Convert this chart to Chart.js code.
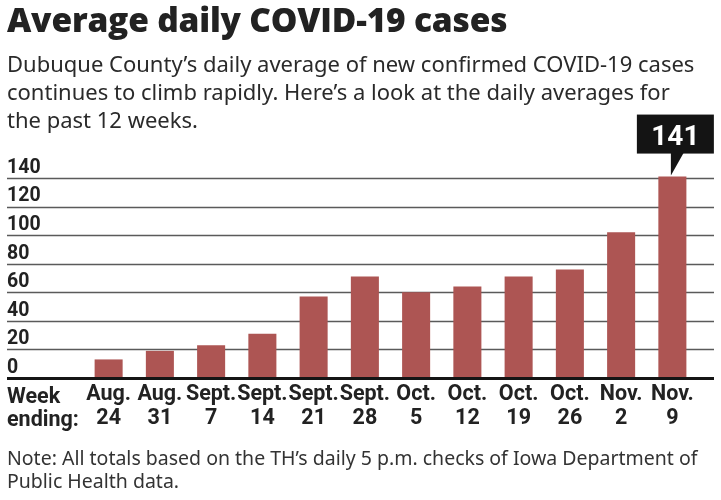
<!DOCTYPE html>
<html>
<head>
<meta charset="utf-8">
<script src="https://cdn.jsdelivr.net/npm/chart.js@4"></script>
<style>
  html, body { margin: 0; padding: 0; background: #fff; }
  #wrap { position: relative; width: 721px; height: 500px; overflow: hidden; }
  #c { position: absolute; left: 0; top: 0; }
  .t { position: absolute; left: 7px; white-space: nowrap; color: #222; }
  #title { top: -1px; font: 800 33.5px/40px "Open Sans", sans-serif; letter-spacing: -0.2px; }
  #sub { top: 49px; font: 400 22px/28px "Noto Sans", sans-serif; color: #2a2a2a; }
  #week { top: 384px; font: 700 21.5px/23px Roboto, sans-serif; }
  #note { top: 446px; font: 400 19.5px/23px "Noto Sans", sans-serif; color: #333; }
</style>
</head>
<body>
<div id="wrap">
  <canvas id="c" width="721" height="500"></canvas>
  <div class="t" id="title">Average daily COVID-19 cases</div>
  <div class="t" id="sub">Dubuque County’s daily average of new confirmed COVID-19 cases<br>continues to climb rapidly. Here’s a look at the daily averages for<br>the past 12 weeks.</div>
  <div class="t" id="week">Week<br>ending:</div>
  <div class="t" id="note">Note: All totals based on the TH’s daily 5 p.m. checks of Iowa Department of<br>Public Health data.</div>
</div>
<script>
const categories = [
  ['Aug.', '24'], ['Aug.', '31'], ['Sept.', '7'], ['Sept.', '14'],
  ['Sept.', '21'], ['Sept.', '28'], ['Oct.', '5'], ['Oct.', '12'],
  ['Oct.', '19'], ['Oct.', '26'], ['Nov.', '2'], ['Nov.', '9']
];
const values = [13, 19, 23, 31, 57, 71, 60, 64, 71, 76, 102, 141];
const yMin = 0;
const yMax = 140;
const yStep = 20;
const calloutIndex = 11;

const barColor = '#ad5553';

const gridPlugin = {
  id: 'fullGrid',
  beforeDatasetsDraw(chart) {
    const { ctx, scales: { y } } = chart;
    ctx.save();
    y.ticks.forEach(t => {
      if (t.value === 0) return;
      const py = Math.round(y.getPixelForValue(t.value)) + 0.5;
      ctx.beginPath();
      ctx.lineWidth = 1.6;
      ctx.strokeStyle = '#5a5a5a';
      ctx.moveTo(7, py);
      ctx.lineTo(714, py);
      ctx.stroke();
    });
    ctx.restore();
  },
  afterDatasetsDraw(chart) {
    const { ctx, scales: { y } } = chart;
    ctx.save();
    const py0 = y.getPixelForValue(0);
    ctx.beginPath();
    ctx.lineWidth = 3;
    ctx.strokeStyle = '#151515';
    ctx.moveTo(7, py0 + 0.5);
    ctx.lineTo(714, py0 + 0.5);
    ctx.stroke();

    // callout for the last bar
    const bar = chart.getDatasetMeta(0).data[calloutIndex];
    const tipX = bar.x - 1.5;
    const tipY = bar.y - 1;
    const boxL = tipX - 34, boxR = tipX + 43;
    const boxB = tipY - 22, boxT = tipY - 61;
    ctx.fillStyle = '#141414';
    ctx.fillRect(boxL, boxT, boxR - boxL, boxB - boxT);
    ctx.beginPath();
    ctx.moveTo(tipX, boxB - 1);
    ctx.lineTo(tipX + 13, boxB - 1);
    ctx.lineTo(tipX, tipY);
    ctx.closePath();
    ctx.fill();
    ctx.fillStyle = '#ffffff';
    ctx.font = '700 28px Roboto, sans-serif';
    ctx.textAlign = 'center';
    ctx.textBaseline = 'alphabetic';
    ctx.fillText(String(values[calloutIndex]), (boxL + boxR) / 2, boxB - 9);
    ctx.restore();
  }
};

new Chart(document.getElementById('c'), {
  type: 'bar',
  data: {
    labels: categories,
    datasets: [{
      data: values,
      backgroundColor: barColor,
      borderWidth: 0,
      barPercentage: 0.547,
      categoryPercentage: 1.0,
      clip: false
    }]
  },
  options: {
    responsive: false,
    animation: false,
    events: [],
    layout: { padding: { top: 178, left: 7, right: 23, bottom: 0 } },
    plugins: {
      legend: { display: false },
      tooltip: { enabled: false },
      title: { display: false }
    },
    scales: {
      x: {
        grid: { display: false, drawTicks: false },
        border: { display: false },
        ticks: {
          color: '#222',
          font: { family: 'Roboto', weight: '700', size: 21.5, lineHeight: 1.12 },
          padding: 5,
          maxRotation: 0,
          autoSkip: false
        },
        afterFit(scale) { scale.height = 122; }
      },
      y: {
        min: yMin,
        max: yMax,
        grid: { display: false, drawTicks: false },
        border: { display: false },
        ticks: {
          stepSize: yStep,
          color: '#222',
          font: { family: 'Roboto', weight: '700', size: 19.5 },
          crossAlign: 'far',
          labelOffset: -10,
          padding: 0
        },
        afterFit(scale) { scale.width = 76; }
      }
    }
  },
  plugins: [gridPlugin]
});
</script>
</body>
</html>
